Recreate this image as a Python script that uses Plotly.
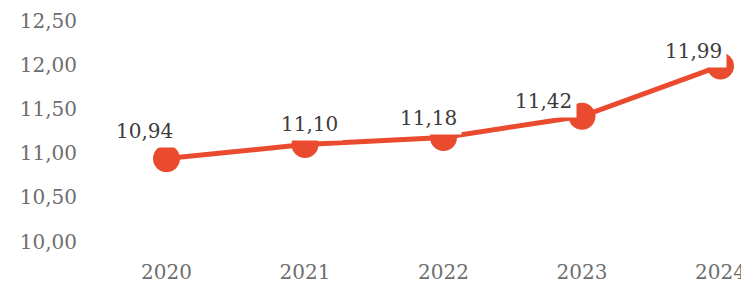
import plotly.graph_objects as go

years = [2020, 2021, 2022, 2023, 2024]
values = [10.94, 11.10, 11.18, 11.42, 11.99]
y_ticks = [10.0, 10.5, 11.0, 11.5, 12.0, 12.5]
y_tick_labels = ["10,00", "10,50", "11,00", "11,50", "12,00", "12,50"]
x_tick_labels = ["2020", "2021", "2022", "2023", "2024"]

LINE = "#EA4A2E"
FONT = "DejaVu Serif"

# label offsets (pixels) relative to each marker
dx = [-22, 5, -15, -39, -27]
dy = [28, 20, 19, 15, 15]

fig = go.Figure()
fig.add_trace(go.Scatter(
    x=years, y=values, mode="lines+markers",
    line=dict(color=LINE, width=5),
    marker=dict(color=LINE, size=27),
    hoverinfo="skip", showlegend=False,
))

for i, (x, v) in enumerate(zip(years, values)):
    fig.add_annotation(
        x=x, y=v, xref="x", yref="y",
        text=f"{v:.2f}".replace(".", ","),
        showarrow=False, xshift=dx[i], yshift=dy[i],
        bgcolor="white", borderpad=4,
        font=dict(family=FONT, size=20, color="#3c3c3c"),
    )

fig.update_layout(
    width=741, height=277,
    margin=dict(l=72, r=0, t=6, b=35),
    paper_bgcolor="white", plot_bgcolor="white",
    separators=", ",
    xaxis=dict(
        range=[2019.3755, 2024.2058],
        tickvals=years, ticktext=x_tick_labels,
        showgrid=False, zeroline=False, showline=False,
        ticks="", ticklabelstandoff=8, ticklabeloverflow="allow",
        automargin=False,
        tickfont=dict(family=FONT, size=20, color="#6e6e6e"),
    ),
    yaxis=dict(
        range=[9.904, 12.579],
        tickvals=y_ticks, ticktext=y_tick_labels,
        showgrid=False, zeroline=False, showline=False,
        ticks="", ticklabelstandoff=2, ticklabeloverflow="allow",
        automargin=False,
        tickfont=dict(family=FONT, size=20, color="#6e6e6e"),
    ),
)

fig.write_html("out.html")
